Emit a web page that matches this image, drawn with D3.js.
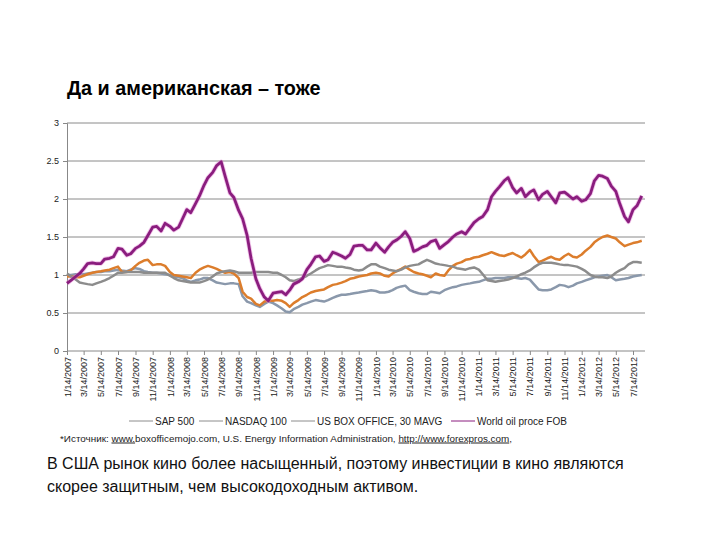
<!DOCTYPE html>
<html><head><meta charset="utf-8">
<script src="https://cdn.jsdelivr.net/npm/d3@7"></script>
<style>
body{margin:0;background:#fff;}
svg{display:block;font-family:"Liberation Sans",Arial,Helvetica,sans-serif;}
</style>
</head><body>
<svg id="chart" width="720" height="540"></svg>
<script>
// ---- data ----
const dates = [
"1/14/2007","1/28/2007","2/14/2007","2/28/2007","3/14/2007","3/28/2007","4/14/2007","4/28/2007","5/14/2007","5/28/2007","6/14/2007","6/28/2007",
"7/14/2007","7/28/2007","8/14/2007","8/28/2007","9/14/2007","9/28/2007","10/14/2007","10/28/2007","11/14/2007","11/28/2007","12/14/2007","12/28/2007",
"1/14/2008","1/28/2008","2/14/2008","2/28/2008","3/14/2008","3/28/2008","4/14/2008","4/28/2008","5/14/2008","5/28/2008","6/14/2008","6/28/2008",
"7/14/2008","7/28/2008","8/14/2008","8/28/2008","9/14/2008","9/28/2008","10/14/2008","10/28/2008","11/14/2008","11/28/2008","12/14/2008","12/28/2008",
"1/14/2009","1/28/2009","2/14/2009","2/28/2009","3/14/2009","3/28/2009","4/14/2009","4/28/2009","5/14/2009","5/28/2009","6/14/2009","6/28/2009",
"7/14/2009","7/28/2009","8/14/2009","8/28/2009","9/14/2009","9/28/2009","10/14/2009","10/28/2009","11/14/2009","11/28/2009","12/14/2009","12/28/2009",
"1/14/2010","1/28/2010","2/14/2010","2/28/2010","3/14/2010","3/28/2010","4/14/2010","4/28/2010","5/14/2010","5/28/2010","6/14/2010","6/28/2010",
"7/14/2010","7/28/2010","8/14/2010","8/28/2010","9/14/2010","9/28/2010","10/14/2010","10/28/2010","11/14/2010","11/28/2010","12/14/2010","12/28/2010",
"1/14/2011","1/28/2011","2/14/2011","2/28/2011","3/14/2011","3/28/2011","4/14/2011","4/28/2011","5/14/2011","5/28/2011","6/14/2011","6/28/2011",
"7/14/2011","7/28/2011","8/14/2011","8/28/2011","9/14/2011","9/28/2011","10/14/2011","10/28/2011","11/14/2011","11/28/2011","12/14/2011","12/28/2011",
"1/14/2012","1/28/2012","2/14/2012","2/28/2012","3/14/2012","3/28/2012","4/14/2012","4/28/2012","5/14/2012","5/28/2012","6/14/2012","6/28/2012",
"7/14/2012","7/28/2012","8/14/2012"
];
const sp500 = [
1.00,1.00,1.01,1.01,1.01,1.02,1.03,1.04,1.04,1.05,1.05,1.06,
1.07,1.06,1.05,1.07,1.09,1.08,1.05,1.04,1.03,1.03,1.02,1.01,
1.00,0.98,0.97,0.96,0.93,0.91,0.93,0.94,0.96,0.96,0.93,0.90,
0.89,0.88,0.89,0.89,0.88,0.72,0.65,0.63,0.60,0.58,0.62,0.65,
0.63,0.60,0.56,0.52,0.51,0.55,0.58,0.61,0.63,0.65,0.67,0.66,
0.65,0.67,0.70,0.72,0.74,0.74,0.75,0.76,0.77,0.78,0.79,0.80,
0.79,0.77,0.77,0.78,0.80,0.83,0.85,0.86,0.80,0.78,0.76,0.75,
0.75,0.78,0.77,0.76,0.80,0.82,0.84,0.85,0.87,0.88,0.89,0.90,
0.91,0.93,0.95,0.95,0.96,0.96,0.96,0.97,0.97,0.96,0.95,0.96,
0.94,0.88,0.81,0.80,0.80,0.81,0.84,0.87,0.86,0.84,0.86,0.89,
0.91,0.93,0.95,0.97,0.98,0.99,1.00,0.97,0.93,0.94,0.95,0.96,
0.98,0.99,1.00
];
const nasdaq100 = [
0.98,0.98,0.97,0.97,0.99,1.01,1.03,1.04,1.05,1.06,1.07,1.09,
1.11,1.04,1.04,1.06,1.12,1.16,1.19,1.20,1.13,1.14,1.14,1.12,
1.04,1.00,0.99,0.98,0.97,0.96,1.03,1.07,1.10,1.12,1.10,1.08,
1.05,1.03,1.04,1.02,0.96,0.78,0.71,0.69,0.62,0.60,0.65,0.66,
0.66,0.67,0.66,0.63,0.58,0.63,0.67,0.71,0.74,0.77,0.79,0.80,
0.81,0.84,0.87,0.88,0.90,0.92,0.95,0.96,0.98,0.99,1.00,1.02,
1.03,1.02,0.99,0.98,1.02,1.05,1.08,1.11,1.07,1.04,1.02,1.01,
0.99,0.97,1.02,1.00,0.99,1.06,1.12,1.15,1.17,1.20,1.21,1.23,
1.24,1.26,1.28,1.30,1.28,1.26,1.25,1.27,1.29,1.26,1.23,1.27,
1.33,1.25,1.17,1.19,1.22,1.24,1.21,1.20,1.25,1.28,1.24,1.23,
1.27,1.32,1.37,1.43,1.47,1.50,1.52,1.50,1.48,1.43,1.38,1.40,
1.42,1.43,1.45
];
const boxOffice = [
1.02,0.98,0.94,0.90,0.89,0.88,0.87,0.89,0.91,0.93,0.96,0.99,
1.03,1.03,1.04,1.04,1.04,1.04,1.03,1.03,1.03,1.03,1.03,1.03,
0.99,0.96,0.93,0.92,0.91,0.90,0.90,0.90,0.92,0.94,0.98,1.02,
1.04,1.05,1.06,1.05,1.03,1.03,1.03,1.03,1.04,1.04,1.04,1.04,
1.03,1.03,1.00,0.97,0.93,0.92,0.94,0.96,0.99,1.02,1.06,1.09,
1.11,1.13,1.12,1.11,1.11,1.10,1.09,1.07,1.06,1.07,1.11,1.14,
1.14,1.11,1.09,1.07,1.06,1.05,1.07,1.10,1.12,1.13,1.14,1.17,
1.20,1.18,1.15,1.14,1.13,1.12,1.11,1.09,1.08,1.07,1.09,1.10,
1.07,1.01,0.93,0.92,0.91,0.92,0.93,0.94,0.96,0.98,1.01,1.03,
1.06,1.10,1.14,1.16,1.16,1.16,1.15,1.14,1.13,1.13,1.12,1.11,
1.08,1.05,1.00,0.98,0.97,0.97,0.96,0.98,1.03,1.06,1.09,1.14,
1.17,1.17,1.16
];
const oilFOB = [
0.89,0.93,0.98,1.02,1.08,1.15,1.16,1.15,1.15,1.21,1.22,1.24,
1.35,1.34,1.26,1.28,1.35,1.38,1.43,1.52,1.63,1.64,1.58,1.68,
1.64,1.59,1.63,1.74,1.86,1.82,1.94,2.04,2.18,2.28,2.35,2.44,
2.49,2.30,2.08,2.02,1.85,1.74,1.52,1.22,0.95,0.82,0.71,0.66,
0.76,0.77,0.78,0.74,0.80,0.88,0.91,0.95,1.07,1.14,1.24,1.25,
1.18,1.20,1.30,1.28,1.25,1.22,1.27,1.38,1.39,1.39,1.33,1.33,
1.42,1.36,1.30,1.37,1.43,1.46,1.51,1.57,1.48,1.31,1.34,1.37,
1.39,1.44,1.46,1.35,1.40,1.44,1.50,1.54,1.57,1.54,1.62,1.69,
1.74,1.77,1.86,2.03,2.10,2.16,2.24,2.28,2.15,2.08,2.14,2.03,
2.09,2.12,1.99,2.06,2.10,2.03,1.95,2.08,2.09,2.05,2.00,2.03,
1.97,1.99,2.07,2.24,2.31,2.30,2.27,2.17,2.10,1.94,1.77,1.70,
1.86,1.91,2.04
];
const xTickLabels = [
"1/14/2007","3/14/2007","5/14/2007","7/14/2007","9/14/2007","11/14/2007",
"1/14/2008","3/14/2008","5/14/2008","7/14/2008","9/14/2008","11/14/2008",
"1/14/2009","3/14/2009","5/14/2009","7/14/2009","9/14/2009","11/14/2009",
"1/14/2010","3/14/2010","5/14/2010","7/14/2010","9/14/2010","11/14/2010",
"1/14/2011","3/14/2011","5/14/2011","7/14/2011","9/14/2011","11/14/2011",
"1/14/2012","3/14/2012","5/14/2012","7/14/2012"
];
const yTickValues = [0, 0.5, 1, 1.5, 2, 2.5, 3];
const seriesNames = ["SAP 500", "NASDAQ 100", "US BOX OFFICE, 30 MAVG", "World oil proce FOB"];
const seriesColors = ["#8a98ab", "#dc7d2c", "#8c8c8c", "#8a1d7e"];
const titleText = "Да и американская – тоже";
const bodyLines = [
  "В США рынок кино более насыщенный, поэтому инвестиции в кино являются",
  "скорее защитным, чем высокодоходным активом."
];

// ---- drawing ----
const svg = d3.select("#chart");
const parse = d3.timeParse("%m/%d/%Y");
const X0 = 67, X1 = 645, Y0 = 351, Y1 = 123;

const x = d3.scaleTime()
  .domain([parse("1/14/2007"), parse("7/14/2012")])
  .range([X0, 633]);
const y = d3.scaleLinear().domain([0, 3]).range([Y0, Y1]);

// title
svg.append("text").attr("x", 67).attr("y", 95)
  .attr("font-size", 19.8).attr("font-weight", "bold").attr("fill", "#000")
  .text(titleText);

// gridlines
svg.append("g").selectAll("line").data(yTickValues.filter(d => d > 0)).join("line")
  .attr("x1", X0).attr("x2", X1)
  .attr("y1", d => y(d)).attr("y2", d => y(d))
  .attr("stroke", "#8a8a8a").attr("stroke-width", 1);

// y axis
const yAxis = svg.append("g").attr("transform", `translate(${X0},0)`)
  .call(d3.axisLeft(y).tickValues(yTickValues).tickSize(4).tickPadding(4)
    .tickFormat(d => String(d)));
yAxis.select(".domain").attr("stroke", "#888");
yAxis.selectAll(".tick line").attr("stroke", "#888");
yAxis.selectAll("text").attr("font-size", 9).attr("fill", "#222")
  .attr("font-family", "'Liberation Sans', Arial, sans-serif");

// x axis
const xAxis = svg.append("g").attr("transform", `translate(0,${Y0})`)
  .call(d3.axisBottom(x).tickValues(xTickLabels.map(parse)).tickSize(4)
    .tickFormat(d3.timeFormat("%-m/%-d/%Y")));
xAxis.select(".domain").attr("stroke", "#888").attr("d", `M${X0},0H${X1}`);
xAxis.selectAll(".tick line").attr("stroke", "#888");
xAxis.selectAll("text")
  .attr("font-size", 9).attr("fill", "#222")
  .attr("font-family", "'Liberation Sans', Arial, sans-serif")
  .attr("text-anchor", "end")
  .attr("transform", "rotate(-90)")
  .attr("x", -6).attr("y", 0).attr("dy", "0.35em");

// lines
const seriesValues = [sp500, nasdaq100, boxOffice, oilFOB];
const parsedDates = dates.map(parse);
const line = d3.line().x((d, i) => x(parsedDates[i])).y(d => y(d));
const gLines = svg.append("g");
seriesValues.forEach((vals, k) => {
  if (k === 3) {
    gLines.append("path").datum(vals).attr("d", line)
      .attr("fill", "none").attr("stroke", "#e07ad0").attr("stroke-width", 4.5)
      .attr("stroke-opacity", 0.45).attr("stroke-linejoin", "round");
  }
  gLines.append("path").datum(vals).attr("d", line)
    .attr("fill", "none").attr("stroke", seriesColors[k])
    .attr("stroke-width", k === 3 ? 2.8 : 2.5)
    .attr("stroke-linejoin", "round");
});

// legend
const legendX = [129, 199, 291, 451];
const lg = svg.append("g").attr("font-size", 10).attr("fill", "#222");
seriesNames.forEach((name, k) => {
  lg.append("line").attr("x1", legendX[k]).attr("x2", legendX[k] + 24)
    .attr("y1", 421).attr("y2", 421)
    .attr("stroke", k === 3 ? seriesColors[3] : "#8c8c8c").attr("stroke-width", 1);
  lg.append("text").attr("x", legendX[k] + 26).attr("y", 424.5).text(name);
});

// footnote
const fn = svg.append("text").attr("x", 60).attr("y", 441.5).attr("font-size", 9.9).attr("fill", "#222");
fn.append("tspan").text("*Источник: ");
fn.append("tspan").attr("text-decoration", "underline").text("www.");
fn.append("tspan").text("boxofficemojo.com, U.S. Energy Information Administration, ");
fn.append("tspan").attr("text-decoration", "underline").text("http://www.forexpros.com");
fn.append("tspan").text(",");

// body text
svg.append("g").selectAll("text").data(bodyLines).join("text")
  .attr("x", 47).attr("y", (d, i) => 468.5 + i * 23.5)
  .attr("font-size", 16).attr("fill", "#111")
  .text(d => d);
</script>
</body></html>
